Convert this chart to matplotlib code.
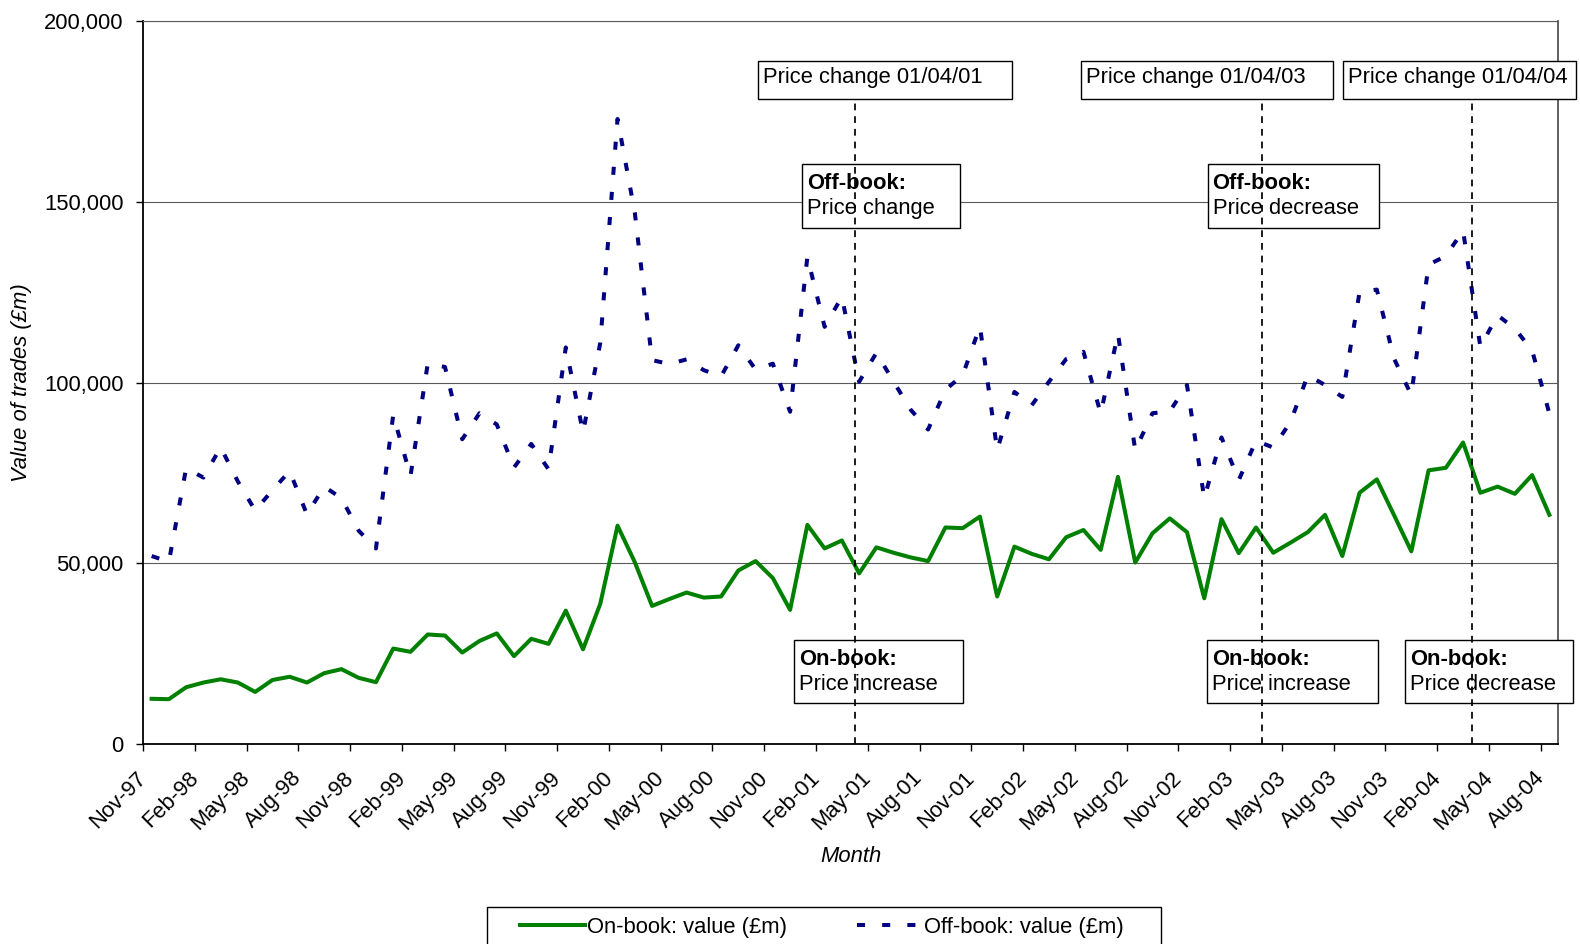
import numpy as np
import matplotlib
matplotlib.use("Agg")
import matplotlib.pyplot as plt
from matplotlib.patches import Rectangle
from matplotlib.ticker import FuncFormatter
from matplotlib.transforms import ScaledTranslation

plt.rcParams['font.family'] = ['Liberation Sans', 'DejaVu Sans']
plt.rcParams['font.size'] = 15.8

# -------------------------------
# Data: monthly value of trades (GBP m), Nov-97 .. Aug-04
# -------------------------------
on_book = [
    12500, 12400, 15700, 17000, 17900, 17000, 14400, 17700, 18600, 17000,
    19600, 20700, 18300, 17100, 26400, 25500, 30300, 30000, 25300, 28500,
    30600, 24300, 29100, 27700, 36900, 26200, 38800, 60400, 50300, 38200,
    40100, 41900, 40500, 40800, 48000, 50600, 45900, 37100, 60600, 54100,
    56300, 47200, 54400, 52900, 51600, 50600, 59900, 59700, 62900, 40800,
    54600, 52600, 51100, 57200, 59200, 53700, 73900, 50200, 58300, 62400,
    58600, 40300, 62200, 52800, 59900, 52900, 55700, 58600, 63400, 52000,
    69500, 73200, 63300, 53300, 75700, 76400, 83400, 69500, 71200, 69200,
    74400, 63400,
]

off_book = [
    52000, 50400, 76300, 73700, 82100, 72600, 64600, 70200, 75500, 63500,
    71200, 68000, 59000, 54100, 91000, 74100, 105200, 104300, 84300, 91500,
    88400, 76500, 83000, 76000, 109700, 86200, 111000, 172900, 147000, 106200,
    105100, 106400, 103400, 101700, 110300, 103600, 105200, 91900, 134700, 115400,
    123700, 100200, 108200, 100200, 92400, 87000, 98000, 102000, 115500, 81300,
    97400, 93700, 100200, 106500, 108500, 91400, 113500, 81300, 91500, 92000,
    99300, 68000, 84800, 73000, 83900, 82000, 89100, 102000, 99300, 96000,
    125000, 125700, 106600, 96500, 132600, 135000, 142000, 109900, 118600, 114900,
    108900, 91400,
]

tick_labels = [
    'Nov-97', 'Feb-98', 'May-98', 'Aug-98', 'Nov-98', 'Feb-99', 'May-99',
    'Aug-99', 'Nov-99', 'Feb-00', 'May-00', 'Aug-00', 'Nov-00', 'Feb-01',
    'May-01', 'Aug-01', 'Nov-01', 'Feb-02', 'May-02', 'Aug-02', 'Nov-02',
    'Feb-03', 'May-03', 'Aug-03', 'Nov-03', 'Feb-04', 'May-04', 'Aug-04',
]

# price change dates, in month-category units (0 = Nov-97)
price_change_x = [40.77, 64.37, 76.53]
VLINE_TOP = 178500

# -------------------------------
# Figure layout helpers (pixel -> figure fraction)
# -------------------------------
W, H = 1580, 944


def fx(px):
    return px / W


def fy(py):
    return 1 - py / H


fig = plt.figure(figsize=(15.8, 9.44), dpi=100)
ax = fig.add_axes([fx(143), fy(744), (1558 - 143) / W, (744 - 21) / H])

x = np.arange(len(on_book))

# Series
l1, = ax.plot(x, on_book, color='#008000', lw=2.9, solid_joinstyle='round',
              zorder=3, label='On-book: value (£m)')
l2, = ax.plot(x, off_book, color='#000080', lw=2.9, ls=(0, (2, 4.25)),
              dash_capstyle='butt', zorder=3, label='Off-book: value (£m)')

# Axes
ax.set_xlim(-0.5, len(x) - 0.5)
ax.set_ylim(0, 200000)
ax.set_yticks(np.arange(0, 200001, 50000))
ax.yaxis.set_major_formatter(FuncFormatter(lambda v, p: f'{v:,.0f}'))
ax.set_xticks(np.arange(-0.5, len(x), 3))
ax.set_xticklabels(tick_labels, rotation=45, ha='right', va='top',
                   rotation_mode='anchor')
ax.tick_params(axis='x', length=5, width=1, pad=12, direction='out')
ax.tick_params(axis='y', length=5, width=1, pad=9, direction='out')

# nudge the rotated month labels a little to the left
shift = ScaledTranslation(-7 / 100, 0, fig.dpi_scale_trans)
for lab in ax.xaxis.get_majorticklabels():
    lab.set_transform(lab.get_transform() + shift)

ax.yaxis.grid(True, color='#5a5a5a', lw=0.8)
ax.set_axisbelow(True)
for side in ['left', 'bottom']:
    ax.spines[side].set_linewidth(1.3)
    ax.spines[side].set_color('black')
ax.spines['right'].set_linewidth(1.3)
ax.spines['right'].set_color('#555555')
ax.spines['top'].set_linewidth(0.8)
ax.spines['top'].set_color('#5a5a5a')

# Price change markers
ax.vlines(price_change_x, 0, VLINE_TOP, colors='black', lw=1.25,
          linestyles=[(0, (3.9, 3.4))], zorder=5)

# -------------------------------
# Annotation boxes (pixel layout)
# -------------------------------
top_boxes = [
    (757.7, 1011.7, 'Price change 01/04/01'),
    (1080.6, 1332.6, 'Price change 01/04/03'),
    (1342.7, 1575.5, 'Price change 01/04/04'),
]
for left, right, txt in top_boxes:
    ax.add_patch(Rectangle((fx(left), fy(99.3)), (right - left) / W, (99.3 - 61) / H,
                           transform=fig.transFigure, fc='white', ec='black',
                           lw=1.0, clip_on=False, zorder=4))
    ax.text(fx(left + 5), fy(83.3), txt, transform=fig.transFigure,
            ha='left', va='baseline', zorder=4.5, clip_on=False)

two_line_boxes = [
    (801.7, 960.0, 164.3, 227.7, 'Off-book:', 'Price change'),
    (1207.6, 1379.0, 164.3, 227.7, 'Off-book:', 'Price decrease'),
    (794.3, 962.6, 640.0, 702.5, 'On-book:', 'Price increase'),
    (1206.7, 1377.7, 640.0, 702.5, 'On-book:', 'Price increase'),
    (1404.7, 1573.3, 640.0, 702.5, 'On-book:', 'Price decrease'),
]
for left, right, top, bottom, head, body in two_line_boxes:
    ax.add_patch(Rectangle((fx(left), fy(bottom)), (right - left) / W, (bottom - top) / H,
                           transform=fig.transFigure, fc='white', ec='black',
                           lw=1.0, clip_on=False, zorder=4))
    ax.text(fx(left + 5), fy(top + 25), head, transform=fig.transFigure,
            ha='left', va='baseline', fontweight='bold', zorder=4.5, clip_on=False)
    ax.text(fx(left + 5), fy(top + 49.7), body, transform=fig.transFigure,
            ha='left', va='baseline', zorder=4.5, clip_on=False)

# Axis titles
fig.text(fx(22), fy(383), 'Value of trades (£m)', rotation=90,
         ha='center', va='center', style='italic')
fig.text(fx(850.5), fy(857), 'Month', ha='center', va='center', style='italic')

# Legend
fig.legend([l1, l2], [l1.get_label(), l2.get_label()], loc='center left',
           bbox_to_anchor=(fx(520), fy(927)), ncol=2, frameon=False,
           borderpad=0, borderaxespad=0, handlelength=2.95, handletextpad=0.1,
           columnspacing=3.2, fontsize=15.8)
fig.add_artist(Rectangle((fx(487), fy(960)), (1161 - 487) / W, (960 - 907) / H,
                         transform=fig.transFigure, fill=False, ec='black', lw=1.0))

fig.savefig('out.png', dpi=100)
